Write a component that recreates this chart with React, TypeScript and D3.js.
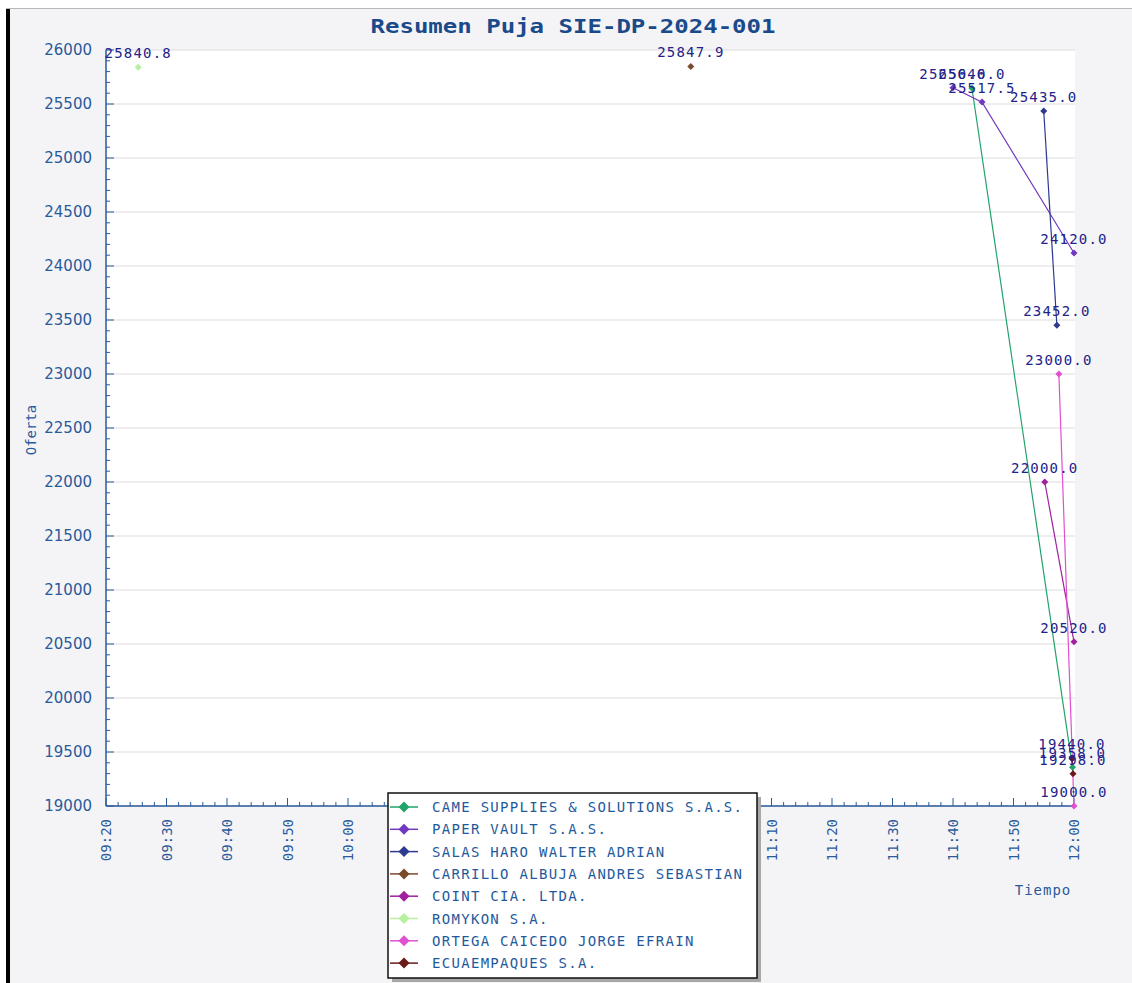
import React from "react";
import * as d3 from "d3";

const chartTitle = "Resumen Puja SIE-DP-2024-001";
const seriesNames = [
  "CAME SUPPLIES & SOLUTIONS S.A.S.",
  "PAPER VAULT S.A.S.",
  "SALAS HARO WALTER ADRIAN",
  "CARRILLO ALBUJA ANDRES SEBASTIAN",
  "COINT CIA. LTDA.",
  "ROMYKON S.A.",
  "ORTEGA CAICEDO JORGE EFRAIN",
  "ECUAEMPAQUES S.A.",
];
const seriesColors = ["#22a36b", "#7038c0", "#2c3a90", "#7a4a2a", "#a020a0", "#b8f0a0", "#e050d0", "#6a1a1a"];

const cameTimes = ["11:43:08", "11:59:45"];
const cameValues = [25646.0, 19358.0];
const paperTimes = ["11:40:00", "11:44:48", "12:00:00"];
const paperValues = [25650.0, 25517.5, 24120.0];
const salasTimes = ["11:55:00", "11:57:10"];
const salasValues = [25435.0, 23452.0];
const carrilloTimes = ["10:56:40"];
const carrilloValues = [25847.9];
const cointTimes = ["11:55:10", "12:00:00"];
const cointValues = [22000.0, 20520.0];
const romykonTimes = ["09:25:20"];
const romykonValues = [25840.8];
const ortegaTimes = ["11:57:30", "12:00:00"];
const ortegaValues = [23000.0, 19000.0];
const ecuaTimes = ["11:59:40", "11:59:50"];
const ecuaValues = [19440.0, 19298.0];

const allTimes = [cameTimes, paperTimes, salasTimes, carrilloTimes, cointTimes, romykonTimes, ortegaTimes, ecuaTimes];
const allValues = [cameValues, paperValues, salasValues, carrilloValues, cointValues, romykonValues, ortegaValues, ecuaValues];

const yTicks = [19000, 19500, 20000, 20500, 21000, 21500, 22000, 22500, 23000, 23500, 24000, 24500, 25000, 25500, 26000];
const xStart = "09:20:00";
const xEnd = "12:00:00";

const parse = (s: string) => {
  const [h, m, sec] = s.split(":").map(Number);
  return new Date(2024, 0, 1, h, m, sec || 0);
};

const W = 1132;
const H = 983;
const L = 106, R = 1074, T = 50, B = 806;

export default function App() {
  const x = d3.scaleTime().domain([parse(xStart), parse(xEnd)]).range([L, R]);
  const y = d3.scaleLinear().domain([19000, 26000]).range([B, T]);
  const fmt = d3.timeFormat("%H:%M");
  const majorX = x.ticks(d3.timeMinute.every(10) as any);
  const minorX = x.ticks(d3.timeMinute.every(2) as any);
  const minorY = d3.range(19000, 26001, 100);
  const axisColor = "#2a5a9a";
  const labelColor = "#22228a";
  const mono = "'DejaVu Sans Mono', monospace";
  const line = d3.line<[Date, number]>().x((d) => x(d[0])).y((d) => y(d[1]));
  const series = seriesNames.map((name, i) => ({
    name,
    color: seriesColors[i],
    pts: allTimes[i].map((t, j) => [parse(t), allValues[i][j]] as [Date, number]),
  }));
  const diamond = (cx: number, cy: number, r: number) =>
    `M${cx},${cy - r}L${cx + r},${cy}L${cx},${cy + r}L${cx - r},${cy}Z`;

  const legX = 388, legY = 793, legW = 369, legH = 185, rowH = 22.3;

  return (
    <svg width={W} height={H} style={{ position: "absolute", left: 0, top: 0, display: "block" }}>
      <rect x={0} y={0} width={W} height={H} fill="#ffffff" />
      <rect x={6} y={8} width={W - 6} height={H - 8} fill="#f4f4f7" />
      <line x1={6} x2={W} y1={8.5} y2={8.5} stroke="#b8b8b8" strokeWidth={1} />
      <rect x={6} y={9} width={4} height={H - 9} fill="#000" />
      <rect x={L} y={T} width={R - L + 1} height={B - T} fill="#ffffff" />
      {yTicks.map((v) => (
        <line key={"g" + v} x1={L} x2={R + 1} y1={y(v)} y2={y(v)} stroke="#dcdcdc" strokeWidth={1} />
      ))}
      <text x={573} y={33} textAnchor="middle" fontFamily={mono} fontWeight="bold" fontSize={19}
        textLength={405} lengthAdjust="spacingAndGlyphs" fill="#1a4a8a">{chartTitle}</text>
      {/* axes */}
      <line x1={L} x2={L} y1={T} y2={B} stroke={axisColor} strokeWidth={1.5} />
      <line x1={L} x2={R} y1={B} y2={B} stroke={axisColor} strokeWidth={1.5} />
      {minorY.map((v) => (
        <line key={"yt" + v} x1={L} x2={L + (v % 500 === 0 ? 8 : 4)} y1={y(v)} y2={y(v)} stroke={axisColor} strokeWidth={1} />
      ))}
      {yTicks.map((v) => (
        <text key={"yl" + v} x={92} y={y(v)} dy="0.36em" textAnchor="end" fontFamily="'DejaVu Sans', sans-serif"
          fontSize={15} fill={axisColor}>{v}</text>
      ))}
      {minorX.map((t, i) => {
        const major = t.getMinutes() % 10 === 0;
        return <line key={"xt" + i} x1={x(t)} x2={x(t)} y1={B} y2={B - (major ? 8 : 4)} stroke={axisColor} strokeWidth={1} />;
      })}
      {majorX.map((t, i) => (
        <text key={"xl" + i} transform={`translate(${x(t)},819) rotate(-90)`} dy="0.36em" textAnchor="end"
          fontFamily={mono} fontSize={14} fill={axisColor}>{fmt(t)}</text>
      ))}
      <text x={1043} y={895} textAnchor="middle" fontFamily={mono} fontSize={14} letterSpacing={1}
        fill={axisColor}>Tiempo</text>
      <text transform="translate(31,430) rotate(-90)" dy="0.36em" textAnchor="middle" fontFamily={mono} fontSize={14}
        fill={axisColor}>Oferta</text>
      {/* series */}
      {series.map((s, i) => (
        <path key={"l" + i} d={line(s.pts) || ""} fill="none" stroke={s.color} strokeWidth={1.2} />
      ))}
      {series.map((s, i) =>
        s.pts.map((p, j) => <path key={"m" + i + "-" + j} d={diamond(x(p[0]), y(p[1]), 3.5)} fill={s.color} />)
      )}
      {series.map((s, i) =>
        s.pts.map((p, j) => (
          <text key={"v" + i + "-" + j} x={x(p[0])} y={y(p[1]) - 9} textAnchor="middle" fontFamily={mono}
            fontSize={14} letterSpacing={1.2} fill={labelColor}>{p[1].toFixed(1)}</text>
        ))
      )}
      {/* legend */}
      <rect x={legX + 4} y={legY + 4} width={legW} height={legH} fill="#a8a8a8" />
      <rect x={legX} y={legY} width={legW} height={legH} fill="#ffffff" stroke="#111" strokeWidth={1.5} />
      {series.map((s, i) => {
        const cy = legY + 14 + i * rowH;
        return (
          <g key={"lg" + i}>
            <line x1={legX + 2} x2={legX + 30} y1={cy} y2={cy} stroke={s.color} strokeWidth={1.5} />
            <path d={diamond(legX + 16, cy, 5.5)} fill={s.color} />
            <text x={legX + 44} y={cy} dy="0.36em" fontFamily={mono} fontSize={14} letterSpacing={1.3}
              fill="#1f5a9c">{s.name}</text>
          </g>
        );
      })}
    </svg>
  );
}
